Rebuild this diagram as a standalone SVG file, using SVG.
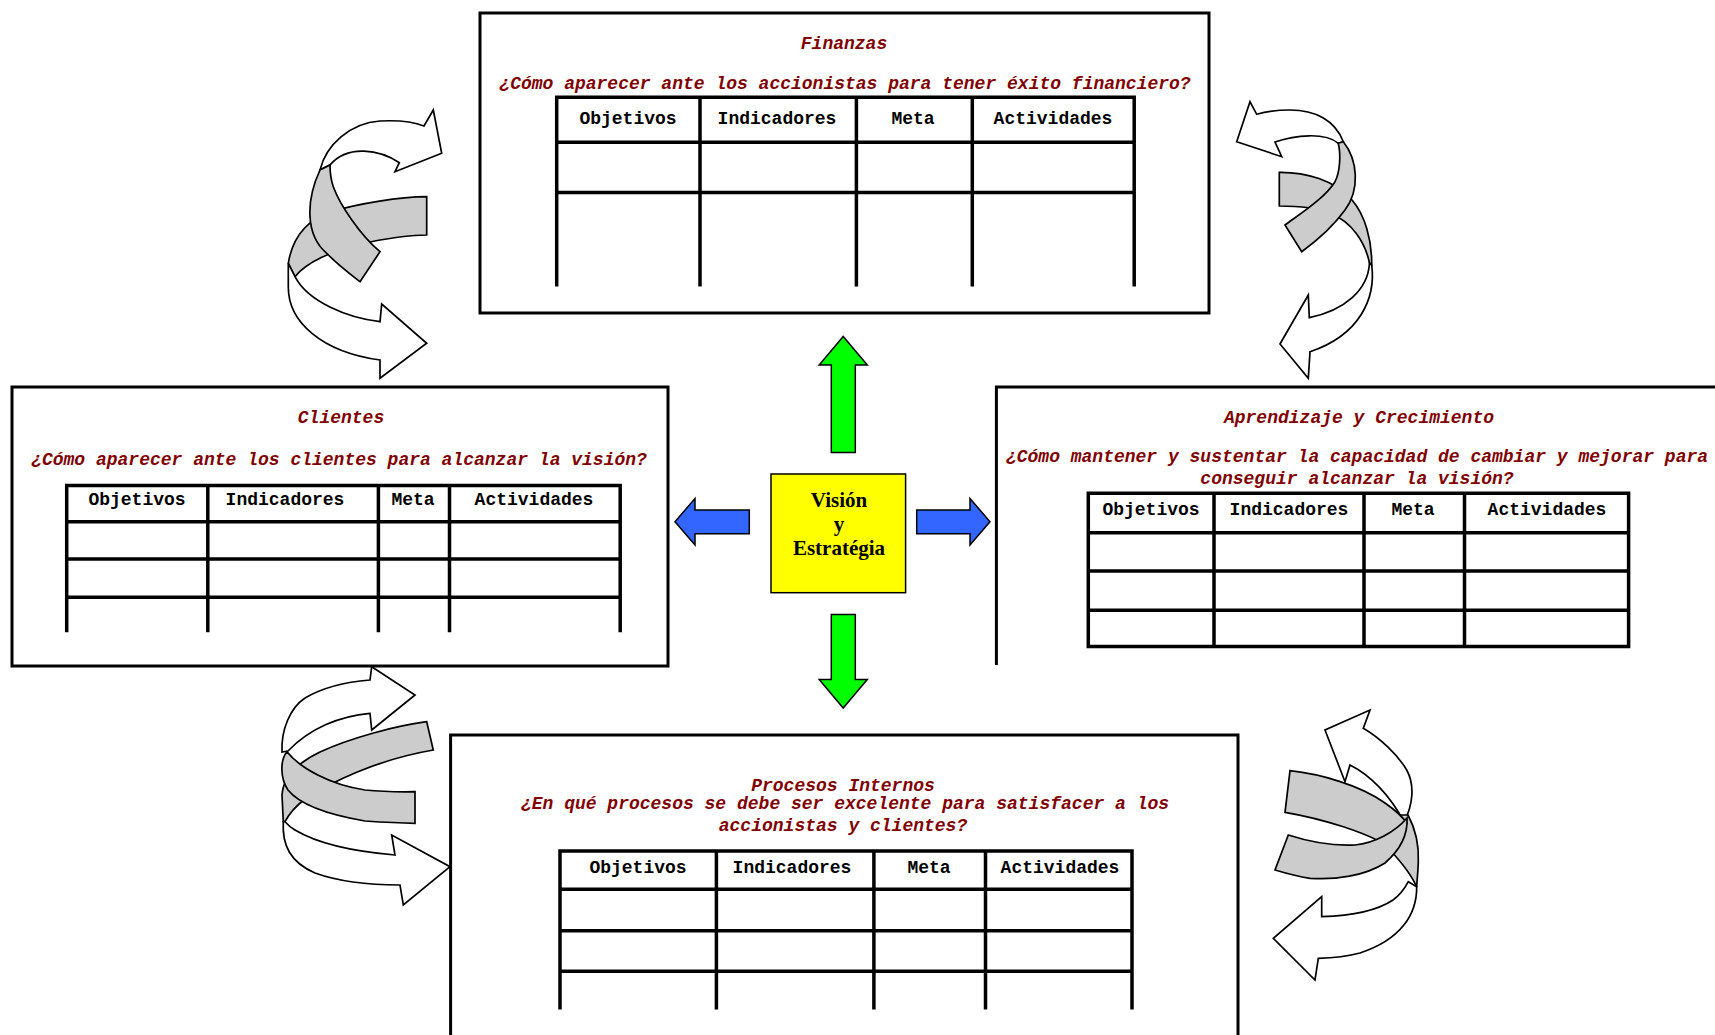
<svg xmlns="http://www.w3.org/2000/svg" width="1715" height="1035" viewBox="0 0 1715 1035">
  <style>
    .frame { fill: #fff; stroke: #000; stroke-width: 3; }
    .open { fill: none; stroke: #000; stroke-width: 3; }
    .grid { fill: none; stroke: #000; stroke-width: 3.5; }
    .ttl { font-family: "Liberation Mono", "Courier New", monospace; font-weight: bold; font-style: italic; font-size: 18px; fill: #800000; text-anchor: middle; }
    .hdr { font-family: "Liberation Mono", "Courier New", monospace; font-weight: bold; font-size: 18px; fill: #000; text-anchor: middle; }
    .core { font-family: "Liberation Serif", "Times New Roman", serif; font-weight: bold; font-size: 21px; fill: #000; text-anchor: middle; }
    .rw { fill: #fff; stroke: #000; stroke-width: 1.7; stroke-linejoin: miter; }
    .rg { fill: #cccccc; stroke: #000; stroke-width: 1.7; stroke-linejoin: miter; }
    .green { fill: #00ff00; stroke: #000; stroke-width: 1.5; }
    .blue { fill: #3366ff; stroke: #000; stroke-width: 1.5; }
  </style>

  <rect width="1715" height="1035" fill="#fff"/>

  <!-- Finanzas -->
  <g id="finanzas">
    <rect class="frame" x="480" y="13" width="729" height="300"/>
    <text class="ttl" x="844" y="49">Finanzas</text>
    <text class="ttl" x="845" y="89">¿Cómo aparecer ante los accionistas para tener éxito financiero?</text>
    <path class="grid" d="M556.7,286.6 V97.3 H1134.2 V286.6 M700,97.3 V286.6 M856.4,97.3 V286.6 M972.3,97.3 V286.6 M556.7,142.2 H1134.2 M556.7,192.5 H1134.2"/>
    <text class="hdr" x="628" y="123.5">Objetivos</text>
    <text class="hdr" x="777" y="123.5">Indicadores</text>
    <text class="hdr" x="913" y="123.5">Meta</text>
    <text class="hdr" x="1053" y="123.5">Actividades</text>
  </g>

  <!-- Clientes -->
  <g id="clientes">
    <rect class="frame" x="12" y="387" width="656" height="279"/>
    <text class="ttl" x="341" y="423">Clientes</text>
    <text class="ttl" x="339" y="464.5">¿Cómo aparecer ante los clientes para alcanzar la visión?</text>
    <path class="grid" d="M66.7,632.2 V485.6 H620.2 V632.2 M207.8,485.6 V632.2 M378.4,485.6 V632.2 M449.5,485.6 V632.2 M66.7,521.7 H620.2 M66.7,558.9 H620.2 M66.7,597.2 H620.2"/>
    <text class="hdr" x="137" y="505">Objetivos</text>
    <text class="hdr" x="285" y="505">Indicadores</text>
    <text class="hdr" x="413" y="505">Meta</text>
    <text class="hdr" x="534" y="505">Actividades</text>
  </g>

  <!-- Aprendizaje y Crecimiento -->
  <g id="aprendizaje">
    <path class="open" d="M996.4,665 V387 H1720"/>
    <text class="ttl" x="1359" y="423">Aprendizaje y Crecimiento</text>
    <text class="ttl" x="1357" y="462">¿Cómo mantener y sustentar la capacidad de cambiar y mejorar para</text>
    <text class="ttl" x="1357" y="484">conseguir alcanzar la visión?</text>
    <path class="grid" d="M1088.3,493.3 H1628.6 V646.4 H1088.3 Z M1214,493.3 V646.4 M1364,493.3 V646.4 M1464.5,493.3 V646.4 M1088.3,532.7 H1628.6 M1088.3,571 H1628.6 M1088.3,610.3 H1628.6"/>
    <text class="hdr" x="1151" y="515">Objetivos</text>
    <text class="hdr" x="1289" y="515">Indicadores</text>
    <text class="hdr" x="1413" y="515">Meta</text>
    <text class="hdr" x="1547" y="515">Actividades</text>
  </g>

  <!-- Procesos Internos -->
  <g id="procesos">
    <path class="open" d="M450.6,1040 V735 H1238 V1040"/>
    <text class="ttl" x="843" y="790.5">Procesos Internos</text>
    <text class="ttl" x="845" y="809">¿En qué procesos se debe ser excelente para satisfacer a los</text>
    <text class="ttl" x="843" y="831">accionistas y clientes?</text>
    <path class="grid" d="M560,1009.5 V851 H1132 V1009.5 M716.4,851 V1009.5 M873.9,851 V1009.5 M985.5,851 V1009.5 M560,889.2 H1132 M560,930.8 H1132 M560,971.3 H1132"/>
    <text class="hdr" x="638" y="872.5">Objetivos</text>
    <text class="hdr" x="792" y="872.5">Indicadores</text>
    <text class="hdr" x="929" y="872.5">Meta</text>
    <text class="hdr" x="1060" y="872.5">Actividades</text>
  </g>

  <!-- Visión y Estratégia -->
  <g id="vision">
    <rect x="771" y="474" width="134.6" height="118.7" fill="#ffff00" stroke="#000" stroke-width="1.5"/>
    <text class="core" x="839" y="507">Visión</text>
    <text class="core" x="839" y="531">y</text>
    <text class="core" x="839" y="555">Estratégia</text>
  </g>

  <!-- Block arrows and swirl arrows -->
  <g id="connectors">
    <polygon class="green" points="831.3,452.5 831.3,365 819.2,365 843.2,336.5 867.3,365 855.3,365 855.3,452.5"/>
    <polygon class="green" points="831.3,614.5 831.3,679.5 819.2,679.5 843.2,708 867.3,679.5 855.3,679.5 855.3,614.5"/>
    <polygon class="blue" points="749.3,510 695,510 695,498.5 675,521.7 695,545 695,533.7 749.3,533.7"/>
    <polygon class="blue" points="916.7,510 970,510 970,498.5 990,521.7 970,545 970,533.7 916.7,533.7"/>

    <!-- upper left swirl -->
    <g id="swirl-tl">
      <path class="rg" d="M426.7,196.7 C400,197 360,203 330,212 C305,221 292,240 288.3,263.3 L295,276.7 C305,264 330,250 370,242 C395,237 410,235 426.7,235 Z"/>
      <path class="rw" d="M288.3,263.3 L288.3,286.7 C288,322 322,352 380,360 L380,378.3 L426.7,343.3 L381.7,304 L380,321.7 C348,318 308,302 295,276.7 Z"/>
      <path class="rw" d="M320,170 C326,145 350,123 380,121 C400,120 414,122 424,126 L433.3,110 L441.7,153.3 L395,171.7 L399.3,162.7 C380,150 348,144 330,165 Z"/>
      <path class="rg" d="M320,170 C306,200 305,235 326.7,253.3 C338,265 350,274 360,281.7 L380,251.7 C360,235 340,205 333.3,186.7 C331,180 330,172 330,165 Z"/>
    </g>

    <!-- upper right swirl -->
    <g id="swirl-tr">
      <path class="rg" d="M1279.3,172.3 C1305,172 1335,180 1352,200 C1365,215 1372,240 1371.7,265 L1369.5,263 C1365,242 1352,222 1330,213 C1315,207 1295,206 1279.3,206 Z"/>
      <path class="rw" d="M1371.7,265 C1376,298 1360,335 1310,351.7 L1308.3,378.3 L1280,344 L1308.3,295 L1309.3,317.7 C1345,310 1368,290 1369.5,263 Z"/>
      <path class="rw" d="M1343.3,141.7 C1335,120 1315,110 1290,110 C1275,110 1265,112 1256.7,114.3 L1250,101.7 L1236.7,141.7 L1281.7,156.7 L1275,142 C1295,135 1325,132 1338.3,143.3 Z"/>
      <path class="rg" d="M1343.3,141.7 C1358,160 1360,190 1345,210 C1332,228 1315,242 1301.7,251.7 L1285,225 C1300,214 1325,198 1335,181.7 C1340,172 1341,155 1338.3,143.3 Z"/>
    </g>

    <!-- lower left swirl -->
    <g id="swirl-bl">
      <path class="rg" d="M426.7,721.7 C395,726 350,738 320,752 C295,764 283,778 282,795 L283.3,821.7 L285,821.7 C290,812 296,806 305,799 C330,783 375,760 433.3,750 Z"/>
      <path class="rw" d="M283.3,821.7 C282,845 290,862 315,873 C340,882 370,885 400,885 L403.3,905 L450,866.7 L391.7,835 L395,855 C360,852 320,845 295,830 C290,827 287,824 285,821.7 Z"/>
      <path class="rw" d="M370,680 L371.7,666.7 L415,695 L371.7,730 L370,713.3 C340,716 310,728 288,751 L282,752 C281,730 290,708 305,698 C322,688 345,682 370,680 Z"/>
      <path class="rg" d="M287,751.7 C300,768 330,785 365,790 C385,792 400,792 415,791.7 L415,823.3 C395,823 380,822 365,821 C330,815 300,805 288,790 C280,778 280,760 287,751.7 Z"/>
    </g>

    <!-- lower right swirl -->
    <g id="swirl-br">
      <path class="rw" d="M1363.3,728.3 L1370,710 L1325,730 L1345,781.7 L1350,765 C1370,775 1390,795 1404,822 C1413,805 1415,785 1406.7,770 C1398,755 1380,738 1363.3,728.3 Z"/>
      <path class="rg" d="M1395,815 L1408,815 C1416,830 1419,848 1418.3,862 C1418,872 1417,880 1416.7,887 C1412,876 1403,864 1390,850 Z"/>
      <path class="rw" d="M1416.7,886.7 C1417,915 1400,940 1360,953 C1345,957 1330,958 1318.3,958.3 L1315,980 L1273.3,938.3 L1321.7,896.7 L1321.7,916.7 C1345,916 1375,912 1393,900 C1400,895 1405,888 1408.3,881.7 Z"/>
      <path class="rg" d="M1290,770.7 C1320,774 1360,785 1385,803 C1395,810 1402,816 1406.7,823 L1395,835 C1387,838 1380,840 1376.7,840 C1365,834 1330,820 1285,812.3 Z"/>
      <path class="rg" d="M1288.3,835 C1310,842 1335,846 1355,845 C1375,843 1395,832 1407,818 C1408,835 1400,850 1385,863 C1365,876 1335,880 1310,878.3 C1295,876 1285,873 1275,870 Z"/>
    </g>
  </g>
</svg>
